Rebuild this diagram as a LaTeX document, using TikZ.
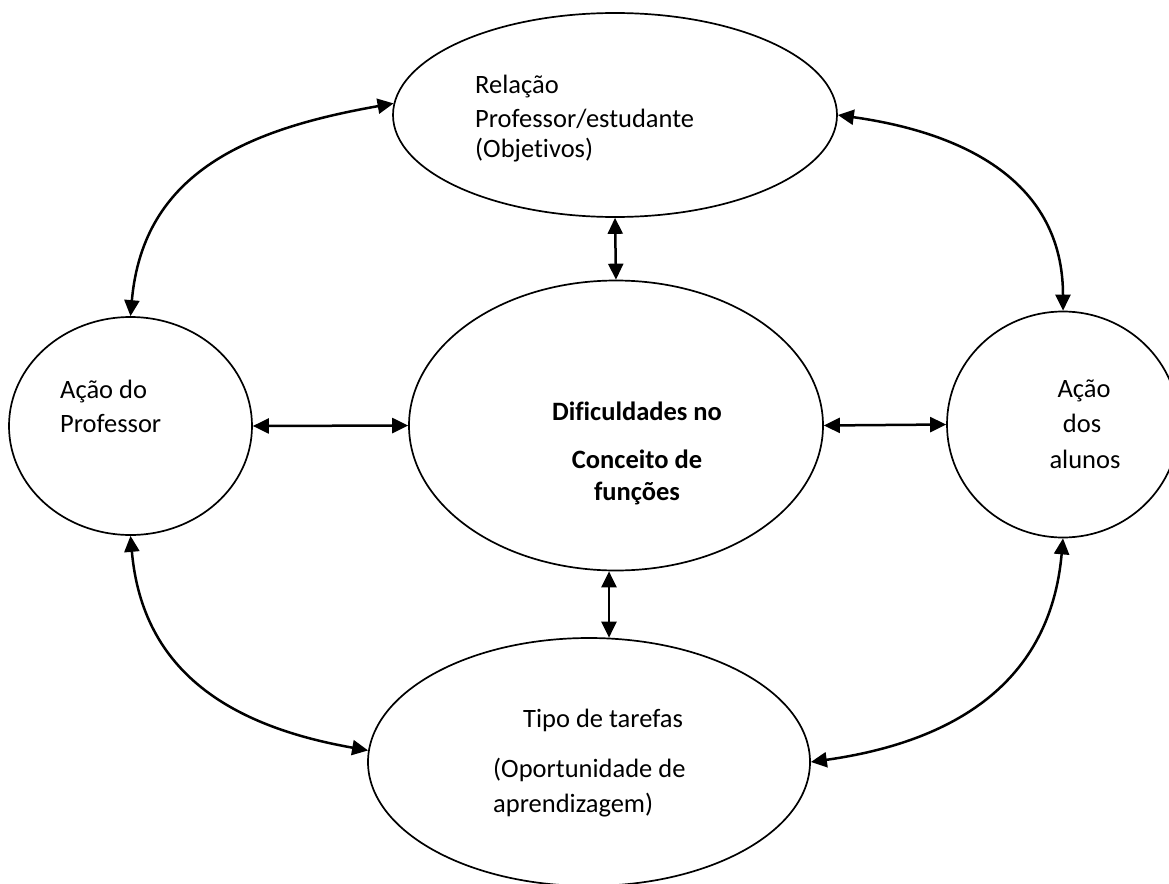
\documentclass[tikz,border=0pt]{standalone}
\usepackage{fontspec}
\setmainfont[Ligatures=NoCommon]{Carlito}
\usetikzlibrary{shapes.geometric,arrows.meta,calc}
\begin{document}
\begin{tikzpicture}[x=1pt,y=1pt,
  oval/.style={ellipse,draw,line width=1.7pt,inner sep=0pt},
  txt/.style={inner sep=0pt,font=\fontsize{26.5}{33}\selectfont},
  btxt/.style={inner sep=0pt,font=\fontsize{26.5}{33}\selectfont\bfseries},
  link/.style={line width=2.5pt,{Triangle[length=16pt,width=15pt]}-{Triangle[length=16pt,width=15pt]}}]
\useasboundingbox (0,0) rectangle (1169,-883);
\clip (0,0) rectangle (1169,-883);
% ellipses
\node[oval,minimum width=444pt,minimum height=204pt] (top) at (615,-115) {};
\node[oval,minimum width=414pt,minimum height=290pt] (mid) at (616,-425.5) {};
\node[oval,minimum width=243pt,minimum height=218pt] (left) at (130.5,-426) {};
\node[oval,minimum width=232pt,minimum height=226pt] (right) at (1063,-424.5) {};
\node[oval,minimum width=442pt,minimum height=248pt] (bot) at (589,-762) {};
% texts
\node[txt,anchor=base west] (t1) at (475,-93) {Relação};
\node[txt,anchor=base west] (t2) at (475,-127) {Professor/estudante};
\node[txt,anchor=base west] (t3) at (475,-157) {(Objetivos)};
\node[txt,anchor=base west] (l1) at (60,-398) {Ação do};
\node[txt,anchor=base west] (l2) at (60,-432) {Professor};
\node[txt,anchor=base] (r1) at (1084,-397) {Ação};
\node[txt,anchor=base] (r2) at (1082,-432) {dos};
\node[txt,anchor=base] (r3) at (1085,-468) {alunos};
\node[btxt,anchor=base] (m1) at (637,-420) {Dificuldades no};
\node[btxt,anchor=base] (m2) at (637,-468) {Conceito de};
\node[btxt,anchor=base] (m3) at (637,-500) {funções};
\node[txt,anchor=base west] (b1) at (523,-727) {Tipo de tarefas};
\node[txt,anchor=base west] (b2) at (493,-777) {(Oportunidade de};
\node[txt,anchor=base west] (b3) at (493,-812) {aprendizagem)};
% straight connectors
\draw[link] (top.south) -- (mid.north);
\coordinate (ms) at ($(mid.south)+(-7,0)$);
\coordinate (bn) at ($(bot.north)+(20,-0.5)$);
\draw[link] (ms) -- (bn);
\draw[link] (left.east) -- (mid.west);
\draw[link] (mid.east) -- (right.west);
% curved connectors
\draw[link] (left.north) to[out=85,in=190,looseness=1.1] (top.177);
\draw[link] (top.east) to[out=-8,in=90,looseness=1.1] (right.north);
\draw[link] (left.south) to[out=-85,in=170,looseness=1.1] (bot.177);
\draw[link] (right.south) to[out=-95,in=8,looseness=1.1] (bot.east);
\end{tikzpicture}
\end{document}
